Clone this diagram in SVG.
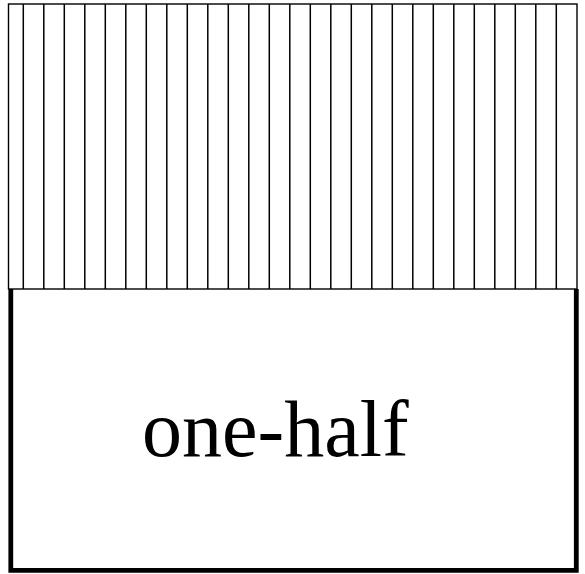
<svg xmlns="http://www.w3.org/2000/svg" width="585" height="574" viewBox="0 0 585 574">
<style>
.hatch line{stroke:#000;stroke-width:1.5}
.thin{fill:none;stroke:#000;stroke-width:1.4}
.thick{fill:none;stroke:#000;stroke-width:4.8}
.lbl{font-family:"Liberation Serif","Times New Roman",serif;font-size:80px;fill:#000}
</style>
<rect width="585" height="574" fill="#fff"/>
<g id="hatched-half">
<rect class="thin" x="8.5" y="4" width="568.5" height="285"/>
<g class="hatch">
<line x1="23.3" y1="4" x2="23.3" y2="289"/>
<line x1="43.8" y1="4" x2="43.8" y2="289"/>
<line x1="64.3" y1="4" x2="64.3" y2="289"/>
<line x1="84.8" y1="4" x2="84.8" y2="289"/>
<line x1="105.3" y1="4" x2="105.3" y2="289"/>
<line x1="125.8" y1="4" x2="125.8" y2="289"/>
<line x1="146.3" y1="4" x2="146.3" y2="289"/>
<line x1="166.8" y1="4" x2="166.8" y2="289"/>
<line x1="187.3" y1="4" x2="187.3" y2="289"/>
<line x1="207.8" y1="4" x2="207.8" y2="289"/>
<line x1="228.3" y1="4" x2="228.3" y2="289"/>
<line x1="248.8" y1="4" x2="248.8" y2="289"/>
<line x1="269.3" y1="4" x2="269.3" y2="289"/>
<line x1="289.8" y1="4" x2="289.8" y2="289"/>
<line x1="310.3" y1="4" x2="310.3" y2="289"/>
<line x1="330.8" y1="4" x2="330.8" y2="289"/>
<line x1="351.3" y1="4" x2="351.3" y2="289"/>
<line x1="371.8" y1="4" x2="371.8" y2="289"/>
<line x1="392.3" y1="4" x2="392.3" y2="289"/>
<line x1="412.8" y1="4" x2="412.8" y2="289"/>
<line x1="433.3" y1="4" x2="433.3" y2="289"/>
<line x1="453.8" y1="4" x2="453.8" y2="289"/>
<line x1="474.3" y1="4" x2="474.3" y2="289"/>
<line x1="494.8" y1="4" x2="494.8" y2="289"/>
<line x1="515.3" y1="4" x2="515.3" y2="289"/>
<line x1="535.8" y1="4" x2="535.8" y2="289"/>
<line x1="556.3" y1="4" x2="556.3" y2="289"/>
</g>
</g>
<g id="one-half">
<path class="thick" d="M10.8 289 V570.3 H576.3 V289"/>
<text class="lbl" x="142" y="456">one-half</text>
</g>
</svg>
